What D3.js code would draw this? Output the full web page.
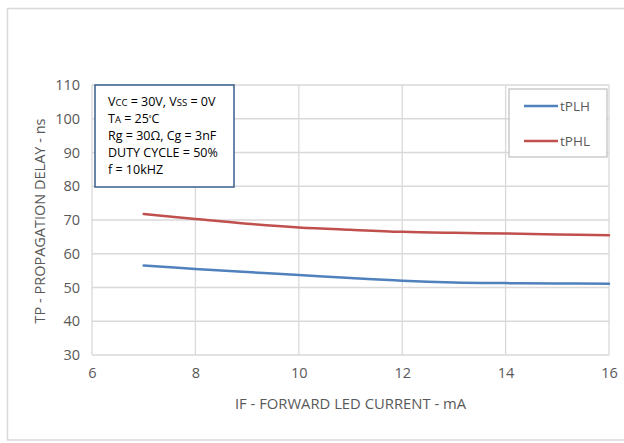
<!DOCTYPE html>
<html>
<head>
<meta charset="utf-8">
<script src="https://cdn.jsdelivr.net/npm/d3@7"></script>
<style>
  html, body { margin: 0; padding: 0; background: #fff; }
  svg { display: block; font-family: "Open Sans", "Liberation Sans", sans-serif; }
</style>
</head>
<body>
<svg id="chart" width="624" height="443"></svg>
<script>
// Forward LED current (mA) and propagation delays (ns)
const currents = [7, 8, 9, 10, 11, 12, 13, 14, 15, 16];
const tPLH = [56.5, 55.5, 54.6, 53.7, 52.8, 52.0, 51.5, 51.3, 51.2, 51.1];
const tPHL = [71.8, 70.3, 68.9, 67.8, 67.1, 66.5, 66.2, 66.0, 65.7, 65.5];
const seriesNames = ["tPLH", "tPHL"];
const seriesColors = ["#4f81bd", "#c0504d"];
const xTicks = [6, 8, 10, 12, 14, 16];
const yTicks = [30, 40, 50, 60, 70, 80, 90, 100, 110];

const svg = d3.select("#chart");
const plot = { left: 92, right: 609, top: 85, bottom: 355 };

const x = d3.scaleLinear().domain([6, 16]).range([plot.left, plot.right]);
const y = d3.scaleLinear().domain([30, 110]).range([plot.bottom, plot.top]);

// outer chart frame
svg.append("rect")
  .attr("x", 7.5).attr("y", 8.5).attr("width", 640).attr("height", 431.5)
  .attr("fill", "#fff").attr("stroke", "#d9d9d9").attr("stroke-width", 1.5);

// gridlines
const grid = svg.append("g").attr("stroke", "#d9d9d9").attr("stroke-width", 1.3);
grid.selectAll("line.v").data(xTicks).join("line")
  .attr("x1", d => x(d)).attr("x2", d => x(d))
  .attr("y1", plot.top).attr("y2", plot.bottom);
grid.selectAll("line.h").data(yTicks).join("line")
  .attr("x1", plot.left).attr("x2", plot.right)
  .attr("y1", d => y(d)).attr("y2", d => y(d));

// axes (labels only)
const xAxis = svg.append("g")
  .attr("transform", `translate(0,${plot.bottom})`)
  .call(d3.axisBottom(x).tickValues(xTicks).tickSize(0).tickPadding(13));
const yAxis = svg.append("g")
  .attr("transform", `translate(${plot.left},0)`)
  .call(d3.axisLeft(y).tickValues(yTicks).tickSize(0).tickPadding(12));
[xAxis, yAxis].forEach(a => {
  a.select(".domain").remove();
  a.selectAll("text").attr("fill", "#595959").attr("font-size", 14.5)
    .attr("font-family", "'Open Sans', sans-serif");
});

// axis titles
svg.append("text")
  .attr("x", (plot.left + plot.right) / 2).attr("y", 409)
  .attr("text-anchor", "middle").attr("fill", "#595959").attr("font-size", 14.8)
  .text("IF - FORWARD LED CURRENT - mA");
svg.append("text")
  .attr("transform", `translate(45,${(plot.top + plot.bottom) / 2 + 1}) rotate(-90)`)
  .attr("text-anchor", "middle").attr("fill", "#595959").attr("font-size", 14.5)
  .text("TP - PROPAGATION DELAY - ns");

// curves
const line = d3.line()
  .x(d => x(d[0])).y(d => y(d[1]))
  .curve(d3.curveCatmullRom.alpha(0.5));
[tPLH, tPHL].forEach((vals, i) => {
  svg.append("path")
    .datum(currents.map((c, j) => [c, vals[j]]))
    .attr("fill", "none").attr("stroke", seriesColors[i])
    .attr("stroke-width", 2.5).attr("stroke-linecap", "round")
    .attr("d", line);
});

// conditions box
const cond = svg.append("g");
cond.append("rect")
  .attr("x", 95).attr("y", 85).attr("width", 139).attr("height", 102)
  .attr("fill", "#fff").attr("stroke", "#385d8a").attr("stroke-width", 1.5);
const condText = cond.append("text").attr("fill", "#000").attr("font-size", 12.5);
const condLines = [
  [["V", 12.5], ["CC", 9.5], [" = 30V, V", 12.5], ["SS", 9.5], [" = 0V", 12.5]],
  [["T", 12.5], ["A", 9.5], [" = 25", 12.5], ["˚", 9], ["C", 12.5]],
  [["Rg = 30Ω, Cg = 3nF", 12.5]],
  [["DUTY CYCLE = 50%", 12.5]],
  [["f = 10kHZ", 12.5]]
];
condLines.forEach((parts, i) => {
  parts.forEach((p, k) => {
    const t = condText.append("tspan").attr("font-size", p[1]).text(p[0]);
    if (k === 0) t.attr("x", 108).attr("y", 106 + i * 17);
  });
});

// legend
const legend = svg.append("g");
legend.append("rect")
  .attr("x", 509).attr("y", 89).attr("width", 98).attr("height", 68)
  .attr("fill", "#fff").attr("stroke", "#bfbfbf").attr("stroke-width", 1.2);
seriesNames.forEach((name, i) => {
  const ly = 106 + i * 35;
  legend.append("line")
    .attr("x1", 524).attr("x2", 558).attr("y1", ly).attr("y2", ly)
    .attr("stroke", seriesColors[i]).attr("stroke-width", 2.5);
  legend.append("text")
    .attr("x", 560).attr("y", ly + 5)
    .attr("fill", "#595959").attr("font-size", 13.5)
    .text(name);
});
</script>
</body>
</html>
